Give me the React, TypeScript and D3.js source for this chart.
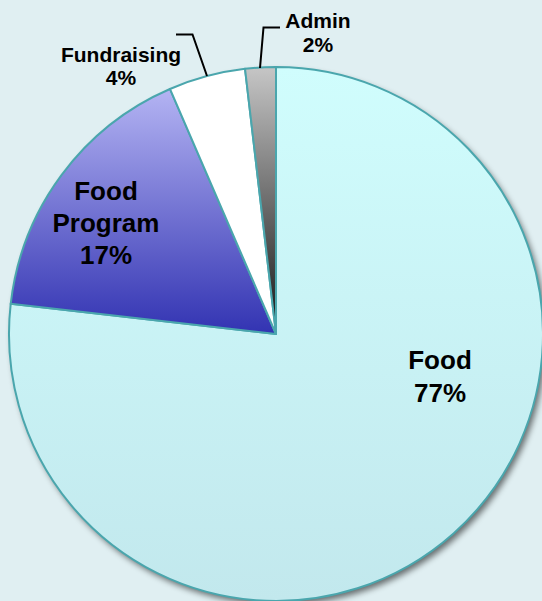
import React from "react";
import * as d3 from "d3";

const categories = ["Food", "Food Program", "Fundraising", "Admin"];
const values = [76.8, 16.7, 4.65, 1.85];
const labelText = ["77%", "17%", "4%", "2%"];

// presentation (not data)
const W = 542, H = 601;
const CX = 276, CY = 334, R = 267;
const gradients = [
  ["#d0fdfd", "#c2e8ed"],
  ["#b4b4f3", "#3233b2"],
  ["#ffffff", "#ffffff"],
  ["#c6c6c6", "#161616"],
];
const labelLayout = [
  { x: 440, y: 369, size: 26, lh: 33, lines: ["Food"] },
  { x: 106, y: 200, size: 26, lh: 32, lines: ["Food", "Program"] },
  { x: 121, y: 61.5, size: 21, lh: 23, lines: ["Fundraising"] },
  { x: 318, y: 27.5, size: 21, lh: 24, lines: ["Admin"] },
];
const leaders = [
  null,
  null,
  [[176, 34.5], [192.5, 34.5], [207, 76]],
  [[280, 27.5], [263.5, 27.5], [260, 68]],
];

export default function App() {
  const pie = d3.pie<number>().sort(null).value((d) => d)(values);
  const arc = d3.arc<d3.PieArcDatum<number>>().innerRadius(0).outerRadius(R);
  const line = d3.line();
  return (
    <svg width={W} height={H} style={{ position: "absolute", left: 0, top: 0, display: "block" }}
      fontFamily="'Liberation Sans', Arial, sans-serif">
      <defs>
        {gradients.map((g, i) => (
          <linearGradient key={i} id={`g${i}`} x1="0" y1="0" x2="0" y2="1">
            <stop offset="0" stopColor={g[0]} />
            <stop offset="1" stopColor={g[1]} />
          </linearGradient>
        ))}
        <filter id="sh" x="-10%" y="-10%" width="120%" height="120%">
          <feGaussianBlur in="SourceAlpha" stdDeviation="3" />
          <feOffset dx="3" dy="4" result="b" />
          <feComponentTransfer>
            <feFuncA type="linear" slope="0.55" />
          </feComponentTransfer>
        </filter>
      </defs>
      <rect width={W} height={H} fill="#e0eff2" />
      <circle cx={CX} cy={CY} r={R} fill="#000" filter="url(#sh)" />
      <g transform={`translate(${CX},${CY})`}>
        {pie.map((p, i) => (
          <path key={categories[i]} d={arc(p) || ""} fill={`url(#g${i})`} stroke="#4aa6ad" strokeWidth={2} strokeLinejoin="round" />
        ))}
      </g>
      {leaders.map((l, i) =>
        l ? <path key={i} d={line(l as [number, number][]) || ""} fill="none" stroke="#000" strokeWidth={2} /> : null
      )}
      {labelLayout.map((L, i) => (
        <text key={i} textAnchor="middle" fontWeight="bold" fontSize={L.size} fill="#000">
          {[...L.lines, labelText[i]].map((t, j) => (
            <tspan key={j} x={L.x} y={L.y + j * L.lh}>{t}</tspan>
          ))}
        </text>
      ))}
    </svg>
  );
}
